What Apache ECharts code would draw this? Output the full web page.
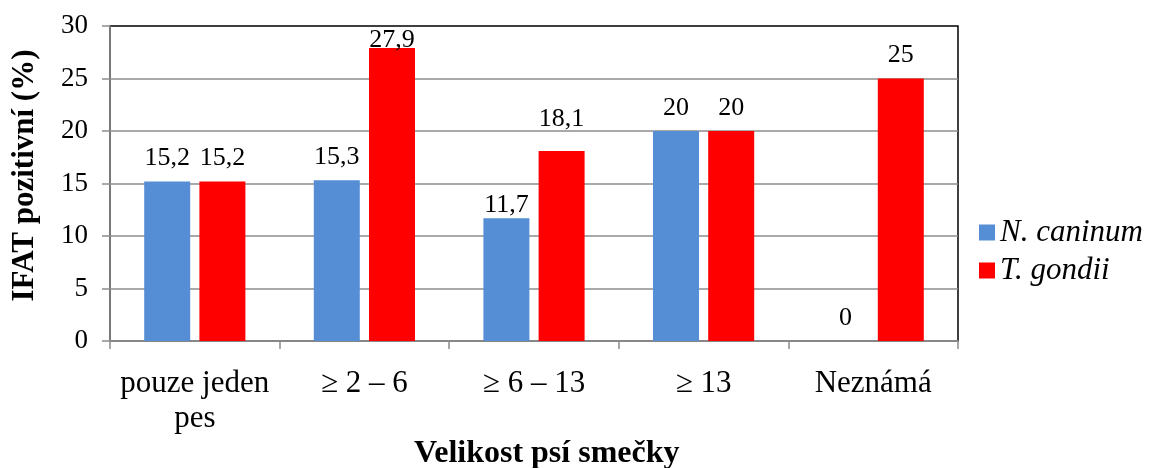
<!DOCTYPE html>
<html>
<head>
<meta charset="utf-8">
<script src="https://cdn.jsdelivr.net/npm/echarts@6/dist/echarts.min.js"></script>
<style>
  html, body { margin: 0; padding: 0; background: #fff; }
  #chart { width: 1150px; height: 468px; }
</style>
</head>
<body>
<div id="chart"></div>
<script>
// Pack-size categories and seroprevalence (%) per parasite
const categories = ['pouze jeden\npes', '\u2265 2 \u2013 6', '\u2265 6 \u2013 13', '\u2265 13', 'Neznámá'];
const neosporaValues = [15.2, 15.3, 11.7, 20, 0];
const toxoValues = [15.2, 27.9, 18.1, 20, 25];
const seriesNames = ['N. caninum', 'T. gondii'];
const yTicks = { min: 0, max: 30, interval: 5 };
const xTitle = 'Velikost psí smečky';
const yTitle = 'IFAT pozitivní (%)';

const FONT = '"Liberation Serif", "Times New Roman", serif';
const fmt = p => String(p.value).replace('.', ',');

// Individual label gaps (px above the bar) where the default spacing is adjusted
const labelGapDefault = 10;
const neosporaLabelGaps = { 2: 0 };
const toxoLabelGaps = { 1: -5, 2: 19 };

const withLabelGaps = (values, gaps) => values.map((v, i) =>
  gaps[i] === undefined ? v : { value: v, label: { distance: gaps[i] } });

const chart = echarts.init(document.getElementById('chart'), null, { renderer: 'canvas' });

const labelStyle = {
  show: true,
  position: 'top',
  distance: labelGapDefault,
  formatter: fmt,
  fontFamily: FONT,
  fontSize: 26,
  color: '#000'
};

chart.setOption({
  animation: false,
  backgroundColor: '#fff',
  title: {
    text: xTitle,
    left: 414,
    top: 438,
    padding: 0,
    textStyle: { fontFamily: FONT, fontSize: 32, fontWeight: 'bold', color: '#000' }
  },
  grid: {
    left: 110, top: 26, width: 848, height: 315,
    outerBoundsMode: 'none',
    containLabel: false,
    show: true, borderColor: '#000', borderWidth: 1.5, backgroundColor: 'transparent'
  },
  legend: {
    orient: 'vertical',
    left: 974,
    top: 212,
    itemWidth: 16,
    itemHeight: 16,
    itemGap: 7,
    icon: 'rect',
    textStyle: { fontFamily: FONT, fontSize: 31, fontStyle: 'italic', color: '#000' },
    data: seriesNames
  },
  xAxis: {
    type: 'category',
    data: categories,
    axisLine: { lineStyle: { color: '#8c8c8c', width: 1.5 } },
    axisTick: { show: true, length: 8, lineStyle: { color: '#8c8c8c', width: 1.5 } },
    axisLabel: {
      fontFamily: FONT, fontSize: 31, color: '#000',
      margin: 25, lineHeight: 35, interval: 0
    }
  },
  yAxis: {
    type: 'value',
    min: yTicks.min, max: yTicks.max, interval: yTicks.interval,
    name: yTitle,
    nameLocation: 'middle',
    nameGap: 70,
    nameTextStyle: {
      fontFamily: FONT, fontSize: 31, fontWeight: 'bold', color: '#000',
      padding: [0, 0, 0, 16]
    },
    axisLine: { show: true, lineStyle: { color: '#8c8c8c', width: 1.5 } },
    axisTick: { show: true, length: 8, lineStyle: { color: '#8c8c8c', width: 1.5 } },
    axisLabel: { fontFamily: FONT, fontSize: 27, color: '#000', margin: 22 },
    splitLine: { show: true, showMaxLine: false, lineStyle: { color: '#8c8c8c', width: 1.5 } }
  },
  series: [
    {
      name: seriesNames[0],
      type: 'bar',
      data: withLabelGaps(neosporaValues, neosporaLabelGaps),
      barWidth: 46,
      barGap: '20%',
      itemStyle: { color: '#558ed5' },
      label: labelStyle
    },
    {
      name: seriesNames[1],
      type: 'bar',
      data: withLabelGaps(toxoValues, toxoLabelGaps),
      barWidth: 46,
      barGap: '20%',
      itemStyle: { color: '#ff0000' },
      label: labelStyle
    }
  ]
});
</script>
</body>
</html>
